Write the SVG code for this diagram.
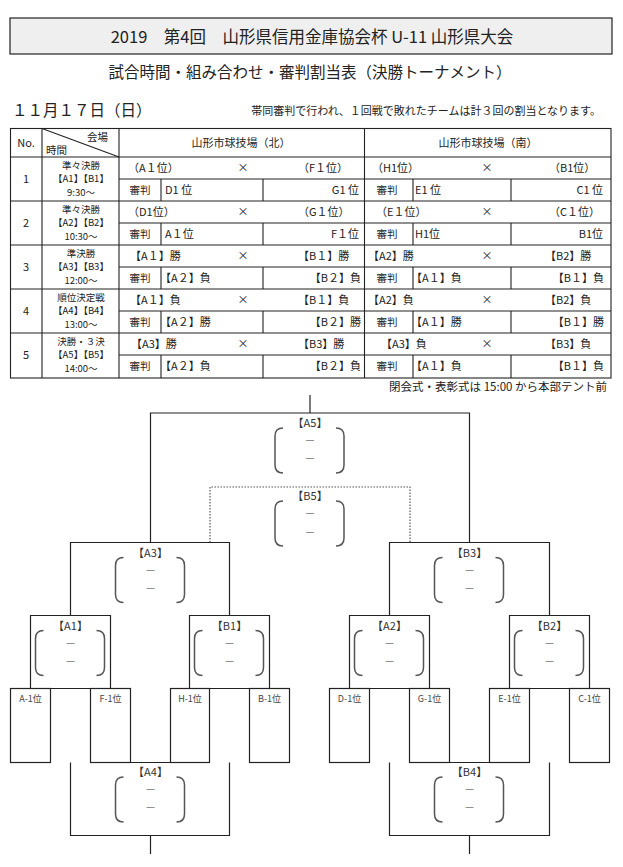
<svg xmlns="http://www.w3.org/2000/svg" xmlns:xlink="http://www.w3.org/1999/xlink" width="623" height="867" viewBox="0 0 623 867">
<style>
text{font-family:"Noto Sans CJK JP","Noto Sans",sans-serif;fill:#222}
.f11{font-size:11px}
.f10{font-size:10.5px}
.tm{font-size:9.5px;text-anchor:middle}
.sm{font-size:9px;fill:#444}
.mid{text-anchor:middle}
.end{text-anchor:end}
.ln{stroke:#222;stroke-width:1.2;fill:none}
.tb{stroke:#222;stroke-width:1.1;fill:none}
.dot{stroke:#555;stroke-width:1.2;fill:none;stroke-dasharray:1.5 1.5}
.par{stroke:#555;stroke-width:1.5;fill:none}
.lab{font-size:11px;fill:#333;text-anchor:middle}
.dash{font-size:11px;fill:#777;text-anchor:middle}
.box{stroke:#222;stroke-width:1.2;fill:#fff}
</style>
<defs>
<g id="pp">
<path class="par" d="M-27,15 Q-35,15 -35,23 V52 Q-35,60 -27,60"/>
<path class="par" d="M26,15 Q34,15 34,23 V52 Q34,60 26,60"/>
</g>
</defs>
<rect width="623" height="867" fill="#fff"/>

<g id="title">
<rect x="10" y="18" width="602" height="36" fill="#efefef" stroke="#222" stroke-width="1.2"/>
<text x="312" y="43" class="mid" style="font-size:16.5px">2019　第4回　山形県信用金庫協会杯 U-11 山形県大会</text>
</g>
<g id="subtitle">
<text x="310" y="78" class="mid" style="font-size:15.5px">試合時間・組み合わせ・審判割当表（決勝トーナメント）</text>
</g>
<g id="date">
<text x="12" y="115.5" style="font-size:15.5px">１１月１７日（日）</text>
</g>
<g id="note">
<text x="601" y="115" class="end" style="font-size:11px">帯同審判で行われ、１回戦で敗れたチームは計３回の割当となります。</text>
</g>

<g id="table">
<rect x="10.5" y="128.5" width="600.5" height="249.5" class="tb"/>
<path class="tb" d="M10.5,157H611M10.5,201H611M10.5,245H611M10.5,289H611M10.5,333H611"/>
<path class="tb" d="M119,179H611M119,223H611M119,267H611M119,311H611M119,355H611"/>
<path class="tb" d="M42,128.5V378M119,128.5V378M364.5,128.5V378"/>
<path class="tb" d="M161,179V201M263,179V201M413,179V201M511,179V201"/>
<path class="tb" d="M161,223V245M263,223V245M413,223V245M511,223V245"/>
<path class="tb" d="M161,267V289M263,267V289M413,267V289M511,267V289"/>
<path class="tb" d="M161,311V333M263,311V333M413,311V333M511,311V333"/>
<path class="tb" d="M161,355V378M263,355V378M413,355V378M511,355V378"/>
<path class="tb" d="M42,128.5L119,157"/>
<text x="26" y="147" class="f11 mid">No.</text>
<text x="108" y="140.5" class="f10 end">会場</text>
<text x="46" y="154" class="f10">時間</text>
<text x="241" y="147" class="f11 mid">山形市球技場（北）</text>
<text x="488" y="147" class="f11 mid">山形市球技場（南）</text>

<!-- row 1 -->
<text x="26" y="183" class="f11 mid">1</text>
<text x="81" y="168.5" class="tm">準々決勝</text>
<text x="81" y="182" class="tm">【A1】【B1】</text>
<text x="81" y="195.5" class="tm">9:30～</text>
<text x="128" y="172" class="f11">（A１位）</text>
<text x="243" y="172" class="f11 mid">×</text>
<text x="298" y="172" class="f11">（F１位）</text>
<text x="140" y="194" class="f10 mid">審判</text>
<text x="165" y="194" class="f11">D1 位</text>
<text x="359" y="194" class="f11 end">G1 位</text>
<text x="372" y="172" class="f11">（H1位）</text>
<text x="487" y="172" class="f11 mid">×</text>
<text x="549" y="172" class="f11">（B1位）</text>
<text x="387" y="194" class="f10 mid">審判</text>
<text x="415" y="194" class="f11">E1 位</text>
<text x="603" y="194" class="f11 end">C1 位</text>

<!-- row 2 -->
<text x="26" y="227" class="f11 mid">2</text>
<text x="81" y="212.5" class="tm">準々決勝</text>
<text x="81" y="226" class="tm">【A2】【B2】</text>
<text x="81" y="239.5" class="tm">10:30～</text>
<text x="128" y="216" class="f11">（D1位）</text>
<text x="243" y="216" class="f11 mid">×</text>
<text x="298" y="216" class="f11">（G１位）</text>
<text x="140" y="238" class="f10 mid">審判</text>
<text x="165" y="238" class="f11">A１位</text>
<text x="359" y="238" class="f11 end">F１位</text>
<text x="376" y="216" class="f11">（E１位）</text>
<text x="487" y="216" class="f11 mid">×</text>
<text x="549" y="216" class="f11">（C１位）</text>
<text x="387" y="238" class="f10 mid">審判</text>
<text x="415" y="238" class="f11">H1位</text>
<text x="603" y="238" class="f11 end">B1位</text>

<!-- row 3 -->
<text x="26" y="271" class="f11 mid">3</text>
<text x="81" y="256.5" class="tm">準決勝</text>
<text x="81" y="270" class="tm">【A3】【B3】</text>
<text x="81" y="283.5" class="tm">12:00～</text>
<text x="130" y="260" class="f11">【A１】勝</text>
<text x="243" y="260" class="f11 mid">×</text>
<text x="298" y="260" class="f11">【B１】勝</text>
<text x="140" y="282" class="f10 mid">審判</text>
<text x="160" y="282" class="f11">【A２】負</text>
<text x="361" y="282" class="f11 end">【B２】負</text>
<text x="368" y="260" class="f11">【A2】勝</text>
<text x="487" y="260" class="f11 mid">×</text>
<text x="545" y="260" class="f11">【B2】勝</text>
<text x="387" y="282" class="f10 mid">審判</text>
<text x="411" y="282" class="f11">【A１】負</text>
<text x="604" y="282" class="f11 end">【B１】負</text>

<!-- row 4 -->
<text x="26" y="315" class="f11 mid">4</text>
<text x="81" y="300.5" class="tm">順位決定戦</text>
<text x="81" y="314" class="tm">【A4】【B4】</text>
<text x="81" y="327.5" class="tm">13:00～</text>
<text x="130" y="304" class="f11">【A１】負</text>
<text x="243" y="304" class="f11 mid">×</text>
<text x="298" y="304" class="f11">【B１】負</text>
<text x="140" y="326" class="f10 mid">審判</text>
<text x="160" y="326" class="f11">【A２】勝</text>
<text x="361" y="326" class="f11 end">【B２】勝</text>
<text x="368" y="304" class="f11">【A2】負</text>
<text x="487" y="304" class="f11 mid">×</text>
<text x="545" y="304" class="f11">【B2】負</text>
<text x="387" y="326" class="f10 mid">審判</text>
<text x="411" y="326" class="f11">【A１】勝</text>
<text x="604" y="326" class="f11 end">【B１】勝</text>

<!-- row 5 -->
<text x="26" y="359" class="f11 mid">5</text>
<text x="81" y="344.5" class="tm">決勝・３決</text>
<text x="81" y="358" class="tm">【A5】【B5】</text>
<text x="81" y="371.5" class="tm">14:00～</text>
<text x="131" y="348" class="f11">【A3】勝</text>
<text x="243" y="348" class="f11 mid">×</text>
<text x="298" y="348" class="f11">【B3】勝</text>
<text x="140" y="370" class="f10 mid">審判</text>
<text x="160" y="370" class="f11">【A２】負</text>
<text x="361" y="370" class="f11 end">【B２】負</text>
<text x="381" y="348" class="f11">【A3】負</text>
<text x="487" y="348" class="f11 mid">×</text>
<text x="545" y="348" class="f11">【B3】負</text>
<text x="387" y="370" class="f10 mid">審判</text>
<text x="411" y="370" class="f11">【A１】負</text>
<text x="604" y="370" class="f11 end">【B１】負</text>
</g>

<g id="closing-note">
<text x="607" y="391" class="end" style="font-size:11.5px">閉会式・表彰式は 15:00 から本部テント前</text>
</g>

<g id="connectors">
<path class="ln" d="M310,395V413"/>
<path class="ln" d="M150.5,542.5V413H469.5V542.5"/>
<path class="dot" d="M210,542.5V487H410V542.5"/>
<path class="ln" d="M70.5,615.5V542.5H229.5V615.5"/>
<path class="ln" d="M389.5,615.5V542.5H549.5V615.5"/>
<path class="ln" d="M30.5,688.5V615.5H110.5V688.5"/>
<path class="ln" d="M189.5,688.5V615.5H269.5V688.5"/>
<path class="ln" d="M349.5,688.5V615.5H429.5V688.5"/>
<path class="ln" d="M509.5,688.5V615.5H589.5V688.5"/>
<path class="ln" d="M50.5,688.5H90.5M209.5,688.5H249.5M369.5,688.5H409.5M529.5,688.5H569.5"/>
<path class="ln" d="M130.5,762.5H170.5M449.5,762.5H489.5"/>
<path class="ln" d="M70.5,762.5V835.5H229.5V762.5M150.5,835.5V854"/>
<path class="ln" d="M389.5,762.5V835.5H549.5V762.5M469.5,835.5V854"/>
</g>

<g id="match-A5">
<text x="310" y="427" class="lab">【A5】</text>
<use xlink:href="#pp" href="#pp" transform="translate(310,413)"/>
<text x="310" y="445" class="dash">－</text>
<text x="310" y="463" class="dash">－</text>
</g>
<g id="match-B5">
<text x="310" y="500" class="lab">【B5】</text>
<use xlink:href="#pp" href="#pp" transform="translate(310,486)"/>
<text x="310" y="518" class="dash">－</text>
<text x="310" y="537" class="dash">－</text>
</g>
<g id="match-A3">
<text x="150.5" y="557" class="lab">【A3】</text>
<use xlink:href="#pp" href="#pp" transform="translate(150.5,542.5)"/>
<text x="150.5" y="574.5" class="dash">－</text>
<text x="150.5" y="592.5" class="dash">－</text>
</g>
<g id="match-B3">
<text x="469.5" y="557" class="lab">【B3】</text>
<use xlink:href="#pp" href="#pp" transform="translate(469.5,542.5)"/>
<text x="469.5" y="574.5" class="dash">－</text>
<text x="469.5" y="592.5" class="dash">－</text>
</g>
<g id="match-A1">
<text x="70.5" y="630" class="lab">【A1】</text>
<use xlink:href="#pp" href="#pp" transform="translate(70.5,615.5)"/>
<text x="70.5" y="647.5" class="dash">－</text>
<text x="70.5" y="665.5" class="dash">－</text>
</g>
<g id="match-B1">
<text x="229.5" y="630" class="lab">【B1】</text>
<use xlink:href="#pp" href="#pp" transform="translate(229.5,615.5)"/>
<text x="229.5" y="647.5" class="dash">－</text>
<text x="229.5" y="665.5" class="dash">－</text>
</g>
<g id="match-A2">
<text x="389.5" y="630" class="lab">【A2】</text>
<use xlink:href="#pp" href="#pp" transform="translate(389.5,615.5)"/>
<text x="389.5" y="647.5" class="dash">－</text>
<text x="389.5" y="665.5" class="dash">－</text>
</g>
<g id="match-B2">
<text x="549.5" y="630" class="lab">【B2】</text>
<use xlink:href="#pp" href="#pp" transform="translate(549.5,615.5)"/>
<text x="549.5" y="647.5" class="dash">－</text>
<text x="549.5" y="665.5" class="dash">－</text>
</g>
<g id="match-A4">
<text x="150.5" y="776" class="lab">【A4】</text>
<use xlink:href="#pp" href="#pp" transform="translate(150.5,762)"/>
<text x="150.5" y="794" class="dash">－</text>
<text x="150.5" y="812" class="dash">－</text>
</g>
<g id="match-B4">
<text x="469.5" y="776" class="lab">【B4】</text>
<use xlink:href="#pp" href="#pp" transform="translate(469.5,762)"/>
<text x="469.5" y="794" class="dash">－</text>
<text x="469.5" y="812" class="dash">－</text>
</g>

<g id="seed-A1"><rect class="box" x="10.5" y="688.5" width="40" height="74"/><text x="30.5" y="701.5" class="sm mid">A-1位</text></g>
<g id="seed-F1"><rect class="box" x="90.5" y="688.5" width="40" height="74"/><text x="110.5" y="701.5" class="sm mid">F-1位</text></g>
<g id="seed-H1"><rect class="box" x="170.5" y="688.5" width="39" height="74"/><text x="190" y="701.5" class="sm mid">H-1位</text></g>
<g id="seed-B1"><rect class="box" x="249.5" y="688.5" width="40" height="74"/><text x="269.5" y="701.5" class="sm mid">B-1位</text></g>
<g id="seed-D1"><rect class="box" x="329.5" y="688.5" width="40" height="74"/><text x="349.5" y="701.5" class="sm mid">D-1位</text></g>
<g id="seed-G1"><rect class="box" x="409.5" y="688.5" width="40" height="74"/><text x="429.5" y="701.5" class="sm mid">G-1位</text></g>
<g id="seed-E1"><rect class="box" x="489.5" y="688.5" width="40" height="74"/><text x="509.5" y="701.5" class="sm mid">E-1位</text></g>
<g id="seed-C1"><rect class="box" x="569.5" y="688.5" width="40" height="74"/><text x="589.5" y="701.5" class="sm mid">C-1位</text></g>
</svg>
